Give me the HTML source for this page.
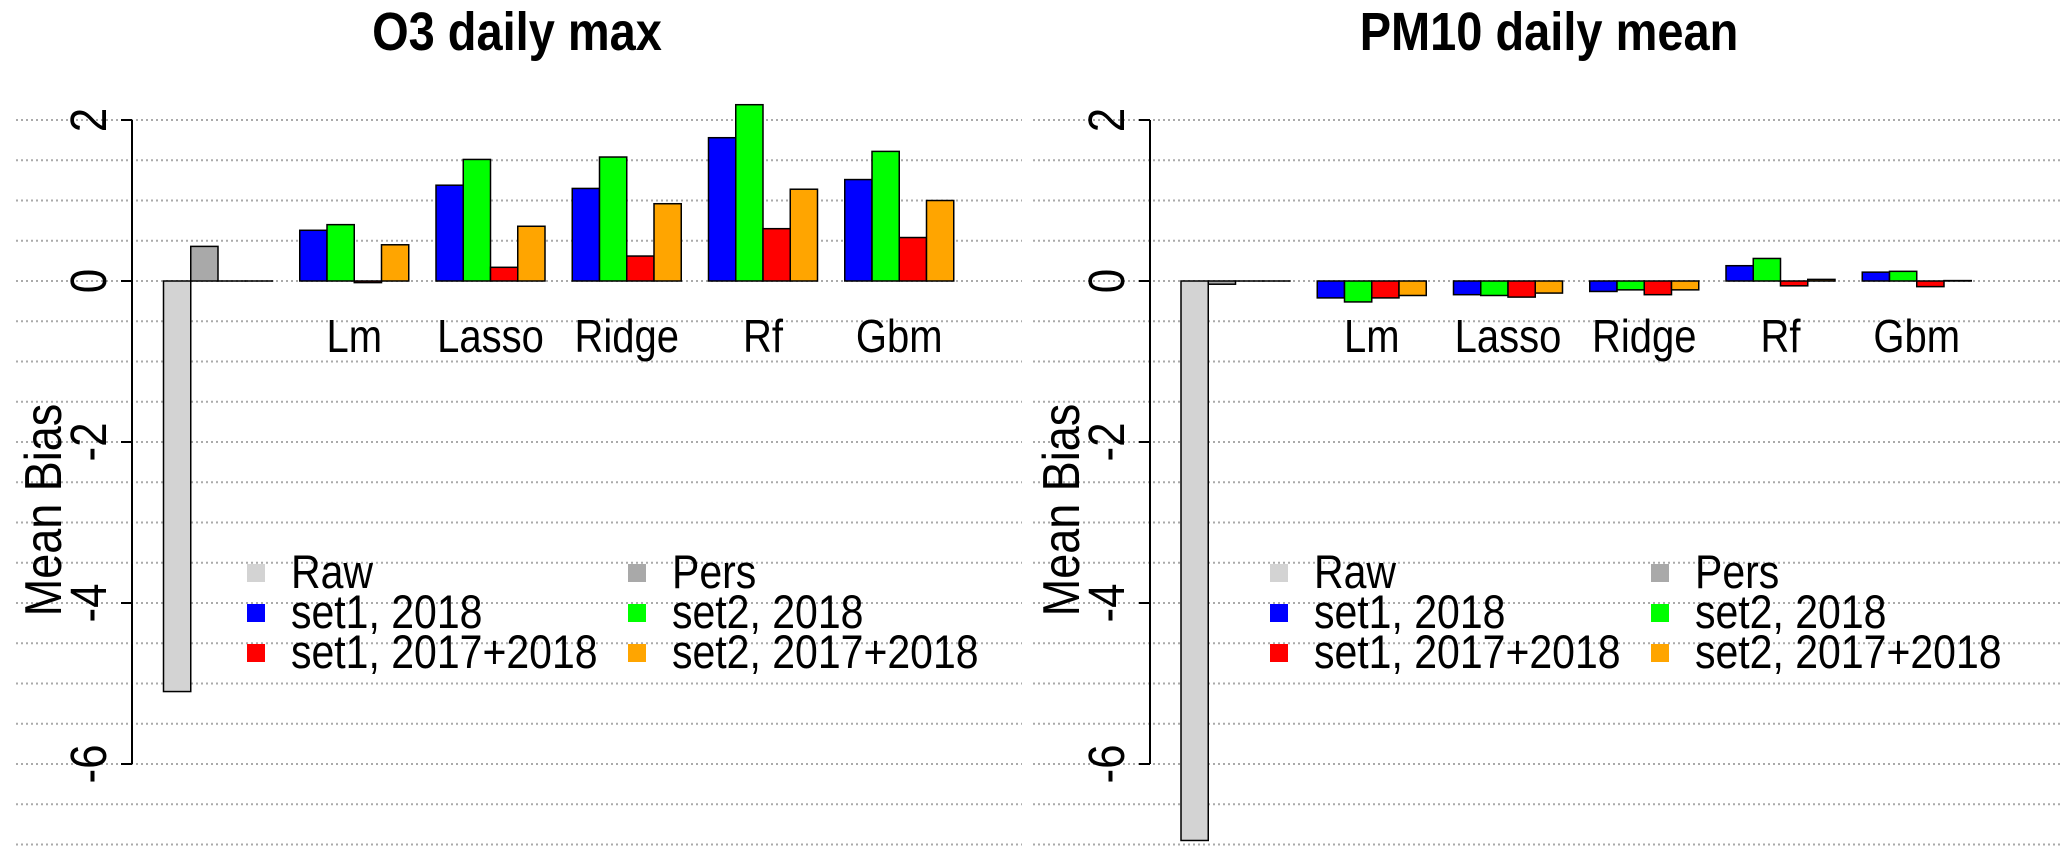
<!DOCTYPE html>
<html><head><meta charset="utf-8"><style>
html,body{margin:0;padding:0;background:#fff;}
svg{display:block;font-family:"Liberation Sans",Arial,sans-serif;}
</style></head><body>
<svg id="chart" width="2067" height="865" viewBox="0 0 2067 865" xmlns="http://www.w3.org/2000/svg"></svg>
<script>
const categories = ["", "Lm", "Lasso", "Ridge", "Rf", "Gbm"];
const seriesNames = ["Raw", "Pers", "set1, 2018", "set2, 2018", "set1, 2017+2018", "set2, 2017+2018"];
const yTicks = [2, 0, -2, -4, -6];
const titles = ["O3 daily max", "PM10 daily mean"];
// first group: Raw, Pers, 0, 0 ; other groups: set1 2018, set2 2018, set1 17+18, set2 17+18
const o3Values = [
  [-5.1, 0.43, 0, 0],
  [0.63, 0.70, -0.02, 0.45],
  [1.19, 1.51, 0.17, 0.68],
  [1.15, 1.54, 0.31, 0.96],
  [1.78, 2.19, 0.65, 1.14],
  [1.26, 1.61, 0.54, 1.00]
];
const pm10Values = [
  [-6.95, -0.04, 0, 0],
  [-0.21, -0.26, -0.21, -0.18],
  [-0.17, -0.18, -0.2, -0.15],
  [-0.13, -0.11, -0.17, -0.11],
  [0.19, 0.28, -0.06, 0.02],
  [0.11, 0.12, -0.07, 0.005]
];

const NS = "http://www.w3.org/2000/svg";
const svg = document.getElementById("chart");
const firstColors = ["#d3d3d3", "#a9a9a9", "#0000ff", "#00ff00"];
const groupColors = ["#0000ff", "#00ff00", "#ff0000", "#ffa500"];
const legendColors = ["#d3d3d3", "#a9a9a9", "#0000ff", "#00ff00", "#ff0000", "#ffa500"];
const SY = 1.15;
function mk(tag, attrs, parent) {
  const e = document.createElementNS(NS, tag);
  for (const k in attrs) e.setAttribute(k, attrs[k]);
  (parent || svg).appendChild(e);
  return e;
}
function txt(parent, x, y, str, size, anchor, rot, bold) {
  const tr = `translate(${x} ${y})` + (rot ? ' rotate(-90)' : '') + ` scale(1 ${SY})`;
  const t = mk("text", {x: 0, y: 0, "text-anchor": anchor, "font-size": size, transform: tr}, parent);
  if (bold) t.setAttribute("font-weight", "bold");
  t.textContent = str;
  return t;
}
function yScale(v) { return 281 - v * 80.5; }

function panel(axisX, barStart, gridX0, gridX1, titleX, data, title, idx, legX1, legX2) {
  const g = mk("g", {});
  
  
  for (let v = -7; v <= 2.001; v += 0.5) {
    const l = mk("line", {x1: gridX0, x2: gridX1, y1: yScale(v), y2: yScale(v), stroke: "#aaaaaa", "stroke-width": 2, "stroke-dasharray": "2,3"}, g);
    
    
  }
  const t = txt(g, titleX, 50, title, 47, "middle", false, true);
  
  
  const ax = mk("line", {x1: axisX, x2: axisX, y1: yScale(2), y2: yScale(-6), stroke: "#000", "stroke-width": 2}, g);
  
  
  yTicks.forEach(v => {
    const tk = mk("line", {x1: axisX - 11, x2: axisX, y1: yScale(v), y2: yScale(v), stroke: "#000", "stroke-width": 2}, g);
    
    
    const tl = txt(g, axisX - 26, yScale(v), String(v), 44, "middle", true);
    
    
  });
  const yt = txt(g, axisX - 71, 510, "Mean Bias", 45, "middle", true);
  
  
  const w = 27.25;
  data.forEach((grp, gi) => {
    const gx = barStart + gi * 5 * w;
    grp.forEach((v, bi) => {
      const x = gx + bi * w;
      const y0 = yScale(0), y1 = yScale(v);
      const col = gi === 0 ? firstColors[bi] : groupColors[bi];
      const r = mk("rect", {x: x, y: Math.min(y0, y1), width: w, height: Math.max(Math.abs(y1 - y0), 0.01), fill: col, stroke: "#000", "stroke-width": 1.5}, g);
      
      
    });
    if (categories[gi]) {
      const cl = txt(g, gx + 2 * w, 352, categories[gi], 40, "middle", false);
      
      
    }
  });
  seriesNames.forEach((name, i) => {
    const col = i % 2 === 0 ? legX1 : legX2;
    const row = Math.floor(i / 2);
    const by = 588 + row * 40;
    const sq = mk("rect", {x: col, y: by - 24, width: 18, height: 18, fill: legendColors[i]}, g);
    
    
    const lt = txt(g, col + 44, by, name, 41, "start", false);
    
    
  });
}
panel(132, 163.5, 16, 1022, 517, o3Values, titles[0], 0, 247, 628);
panel(1150, 1181, 1033, 2062, 1549, pm10Values, titles[1], 1, 1270, 1651);
</script>
</body></html>
